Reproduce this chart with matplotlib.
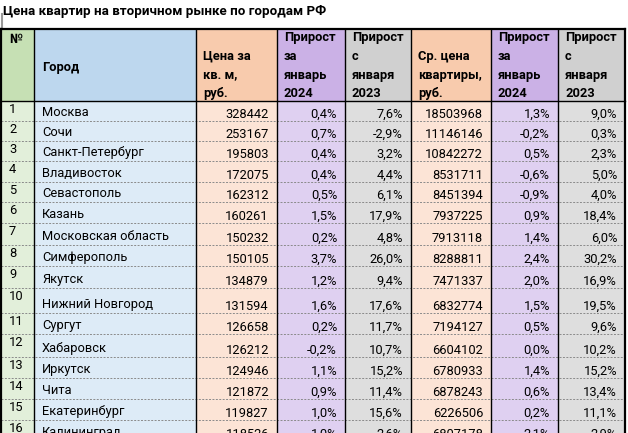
import matplotlib
matplotlib.use('Agg')
from matplotlib import pyplot as plt
from matplotlib.patches import Rectangle

plt.rcParams['font.family'] = ['Roboto', 'DejaVu Sans']

title = 'Цена квартир на вторичном рынке по городам РФ'
headers = ['№', 'Город', 'Цена за\nкв. м,\nруб.',
           'Прирост\nза\nянварь\n2024', 'Прирост\nс\nянваря\n2023',
           'Ср. цена\nквартиры,\nруб.',
           'Прирост\nза\nянварь\n2024', 'Прирост\nс\nянваря\n2023']

cities = ['Москва', 'Сочи', 'Санкт-Петербург', 'Владивосток', 'Севастополь',
          'Казань', 'Московская область', 'Симферополь', 'Якутск',
          'Нижний Новгород', 'Сургут', 'Хабаровск', 'Иркутск', 'Чита',
          'Екатеринбург', 'Калининград']
price_sqm = [328442, 253167, 195803, 172075, 162312, 160261, 150232, 150105,
             134879, 131594, 126658, 126212, 124946, 121872, 119827, 118526]
sqm_jan24 = [0.4, 0.7, 0.4, 0.4, 0.5, 1.5, 0.2, 3.7,
             1.2, 1.6, 0.2, -0.2, 1.1, 0.9, 1.0, 1.0]
sqm_since23 = [7.6, -2.9, 3.2, 4.4, 6.1, 17.9, 4.8, 26.0,
               9.4, 17.6, 11.7, 10.7, 15.2, 11.4, 15.6, 2.6]
flat_price = [18503968, 11146146, 10842272, 8531711, 8451394, 7937225, 7913118, 8288811,
              7471337, 6832774, 7194127, 6604102, 6780933, 6878243, 6226506, 6807178]
flat_jan24 = [1.3, -0.2, 0.5, -0.6, -0.9, 0.9, 1.4, 2.4,
              2.0, 1.5, 0.5, 0.0, 1.4, 0.6, 0.2, 2.1]
flat_since23 = [9.0, 0.3, 2.3, 5.0, 4.0, 18.4, 6.0, 30.2,
                16.9, 19.5, 9.6, 10.2, 15.2, 13.4, 11.1, 2.9]

# layout in pixels
col_x = [1, 34, 196, 277, 345, 411, 491, 558, 625]
head_top, head_bot = 29, 101
row_y = [101, 121, 141, 161, 182, 202, 223, 245, 266, 288, 313, 334, 357, 378, 399, 420, 441]
head_colors = ['#c6e0b4', '#bdd7ee', '#f8cbad', '#cbb1e6', '#d0d0d0', '#f8cbad', '#cbb1e6', '#d0d0d0']
cell_colors = ['#e2efda', '#ddebf7', '#fce4d6', '#dfd0f1', '#dedede', '#fce4d6', '#dfd0f1', '#dedede']


def pct(v):
    return '{:.1f}%'.format(v).replace('.', ',')


fig = plt.figure(figsize=(6.28, 4.33), dpi=100)
ax = fig.add_axes([0, 0, 1, 1])
ax.set_xlim(0, 628)
ax.set_ylim(433, 0)
ax.axis('off')

fs = 9.3
ax.text(3, 11, title, fontsize=9.6, fontweight='bold', va='center', ha='left')
ax.plot([2, 2], [14, head_top], color='#999999', lw=1.5)

# header
for c in range(8):
    x0, x1 = col_x[c], col_x[c + 1]
    ax.add_patch(Rectangle((x0, head_top), x1 - x0, head_bot - head_top,
                           facecolor=head_colors[c], edgecolor='none'))
    lines = headers[c].split('\n')
    if c == 0:
        ax.text(x0 + 8, head_top + 4, lines[0], fontsize=fs, fontweight='bold', va='top')
    elif c == 1:
        ax.text(x0 + 8, 67, lines[0], fontsize=fs, fontweight='bold', va='center')
    else:
        n = len(lines)
        for i, ln in enumerate(lines):
            ax.text(x0 + 7, head_bot - 4 - (n - 1 - i) * 18.5, ln, fontsize=fs,
                    fontweight='bold', va='baseline')

# body
for r in range(len(cities)):
    y0, y1 = row_y[r], row_y[r + 1]
    for c in range(8):
        x0, x1 = col_x[c], col_x[c + 1]
        ax.add_patch(Rectangle((x0, y0), x1 - x0, y1 - y0,
                               facecolor=cell_colors[c], edgecolor='none'))
    vals = [pct(sqm_jan24[r]), pct(sqm_since23[r]), str(flat_price[r]),
            pct(flat_jan24[r]), pct(flat_since23[r])]
    ax.text(col_x[0] + 8, y0 + 2, str(r + 1), fontsize=fs, va='top')
    ax.text(col_x[1] + 8, y1 - 5, cities[r], fontsize=fs, va='baseline')
    ax.text(col_x[3] - 8, y1 - 3, str(price_sqm[r]), fontsize=fs, va='baseline', ha='right')
    for k, v in enumerate(vals):
        ax.text(col_x[k + 4] - 8, y1 - 3, v, fontsize=fs, va='baseline', ha='right')
    if r < len(cities) - 1:
        ax.plot([col_x[0], col_x[-1]], [y1, y1], color='#8a8a8a', lw=0.7,
                ls=(0, (2, 1.5)))

# grid lines
for x in col_x[1:-1]:
    ax.plot([x, x], [head_top, row_y[-1]], color='black', lw=1.0)
ax.plot([col_x[0], col_x[-1]], [head_bot, head_bot], color='black', lw=1.0)
ax.plot([col_x[0], col_x[-1]], [head_top, head_top], color='black', lw=1.6)
ax.plot([col_x[0], col_x[0]], [head_top, row_y[-1]], color='black', lw=1.6)
ax.plot([col_x[-1], col_x[-1]], [head_top, row_y[-1]], color='black', lw=1.6)

fig.savefig('out.png', dpi=100)
